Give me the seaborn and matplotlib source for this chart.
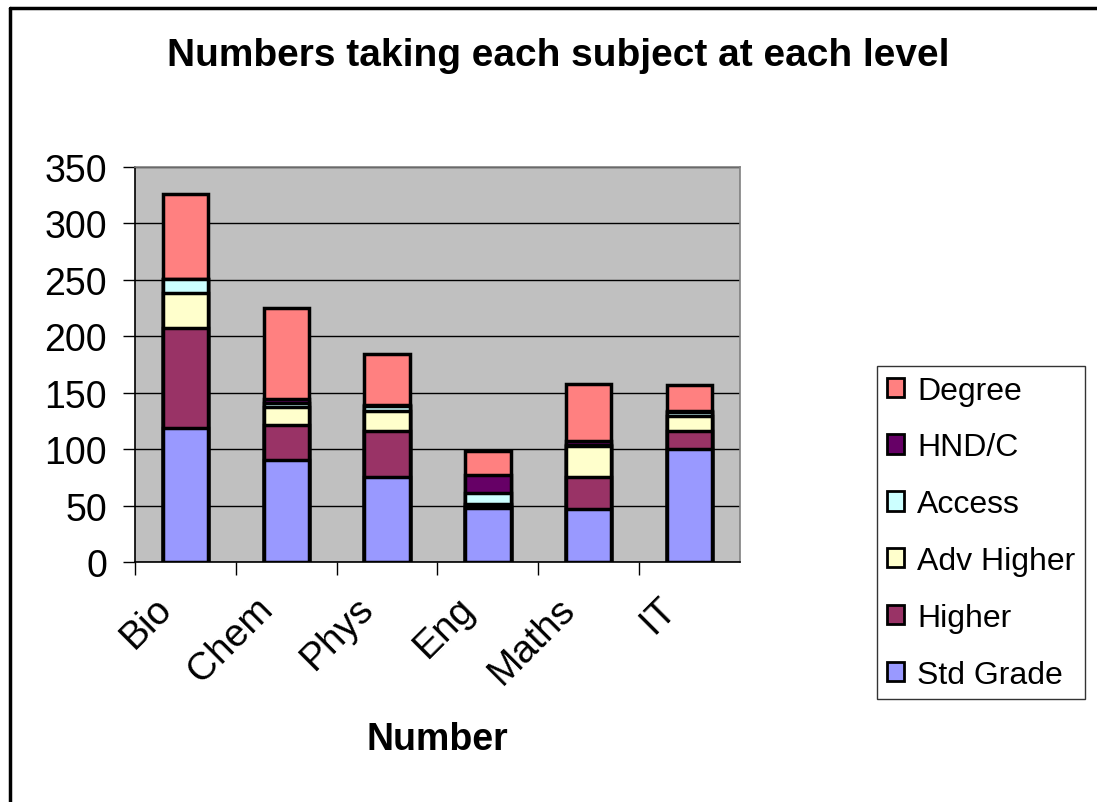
import numpy as np
import pandas as pd
import seaborn as sns
import matplotlib.pyplot as plt
import matplotlib.transforms as mtransforms
from matplotlib.patches import Patch
from matplotlib.lines import Line2D

subjects = ['Bio', 'Chem', 'Phys', 'Eng', 'Maths', 'IT']
levels = ['Std Grade', 'Higher', 'Adv Higher', 'Access', 'HND/C', 'Degree']

std_grade = [119, 90, 75, 48, 47, 100]
higher = [88, 31, 41, 2, 28, 16]
adv_higher = [31, 16, 18, 1, 28, 13]
access = [13, 4, 4, 10, 1, 4]
hnd_c = [0, 3, 1, 16, 3, 1]
degree = [75, 81, 45, 21, 51, 23]

colors = ['#9999FF', '#993366', '#FFFFCC', '#CCFFFF', '#660066', '#FF8080']

sns.set_theme(style='white')
plt.rcParams['font.family'] = ['Liberation Sans', 'DejaVu Sans']
plt.rcParams['text.color'] = 'black'
plt.rcParams['xtick.color'] = 'black'
plt.rcParams['ytick.color'] = 'black'

df = pd.DataFrame({'Subject': subjects, 'Std Grade': std_grade, 'Higher': higher,
                   'Adv Higher': adv_higher, 'Access': access, 'HND/C': hnd_c,
                   'Degree': degree})
cum = df[levels].cumsum(axis=1)
cum['Subject'] = subjects

fig = plt.figure(figsize=(10.97, 8.03), dpi=100)
ax = fig.add_axes([135 / 1097, 1 - 563 / 803, 605 / 1097, 395 / 803])
ax.set_facecolor('#C0C0C0')

# draw cumulative totals from the top level down so lower levels sit on top
for lvl, col in reversed(list(zip(levels, colors))):
    sns.barplot(data=cum, x='Subject', y=lvl, color=col, width=0.45,
                edgecolor='black', linewidth=2.5, saturation=1, ax=ax, zorder=3)

ax.set_ylim(0, 350)
ax.set_xlim(-0.5, len(subjects) - 0.5)
ax.set_yticks(range(0, 351, 50))
ax.yaxis.grid(True, color='black', linewidth=1, zorder=0)
ax.set_axisbelow(True)
for s in ax.spines.values():
    s.set_color('#808080')
    s.set_linewidth(1.2)
ax.spines['left'].set_color('black')
ax.spines['bottom'].set_color('black')

ax.tick_params(axis='y', which='major', direction='out', length=9, width=1,
               labelsize=27, pad=11, left=True)
ax.set_xticks(np.arange(len(subjects)))
ax.set_xticks(np.arange(len(subjects)) - 0.5, minor=True)
ax.tick_params(axis='x', which='major', length=0, labelsize=28, pad=20)
ax.tick_params(axis='x', which='minor', direction='out', length=9, width=1,
               bottom=True)
shift = mtransforms.ScaledTranslation(-0.32, 0, fig.dpi_scale_trans)
for lab in ax.get_xticklabels():
    lab.set_rotation(45)
    lab.set_ha('right')
    lab.set_rotation_mode('anchor')
    lab.set_transform(lab.get_transform() + shift)
ax.set_xlabel('')
ax.set_ylabel('')

fig.text(558 / 1097, 1 - 56 / 803, 'Numbers taking each subject at each level',
         ha='center', va='center', fontsize=28, fontweight='bold')
fig.text(437 / 1097, 1 - 740 / 803, 'Number', ha='center', va='center',
         fontsize=27, fontweight='bold')

handles = [Patch(facecolor=c, edgecolor='black', linewidth=2, label=l)
           for l, c in zip(levels, colors)][::-1]
leg = fig.legend(handles=handles, loc='upper left',
                 bbox_to_anchor=(877 / 1097, 1 - 367 / 803), fontsize=23,
                 frameon=True, fancybox=False, handlelength=0.55,
                 handleheight=0.55, handletextpad=0.4, labelspacing=0.84,
                 borderpad=0.3, borderaxespad=0)
leg.get_frame().set_edgecolor('black')
leg.get_frame().set_linewidth(1)

# chart border (left and top visible in the crop)
fig.add_artist(Line2D([9.5 / 1097, 9.5 / 1097], [0, 1 - 8.5 / 803],
                      color='black', linewidth=2.5, transform=fig.transFigure))
fig.add_artist(Line2D([9.5 / 1097, 1], [1 - 8.5 / 803, 1 - 8.5 / 803],
                      color='black', linewidth=2.5, transform=fig.transFigure))

fig.savefig('out.png', dpi=100)
